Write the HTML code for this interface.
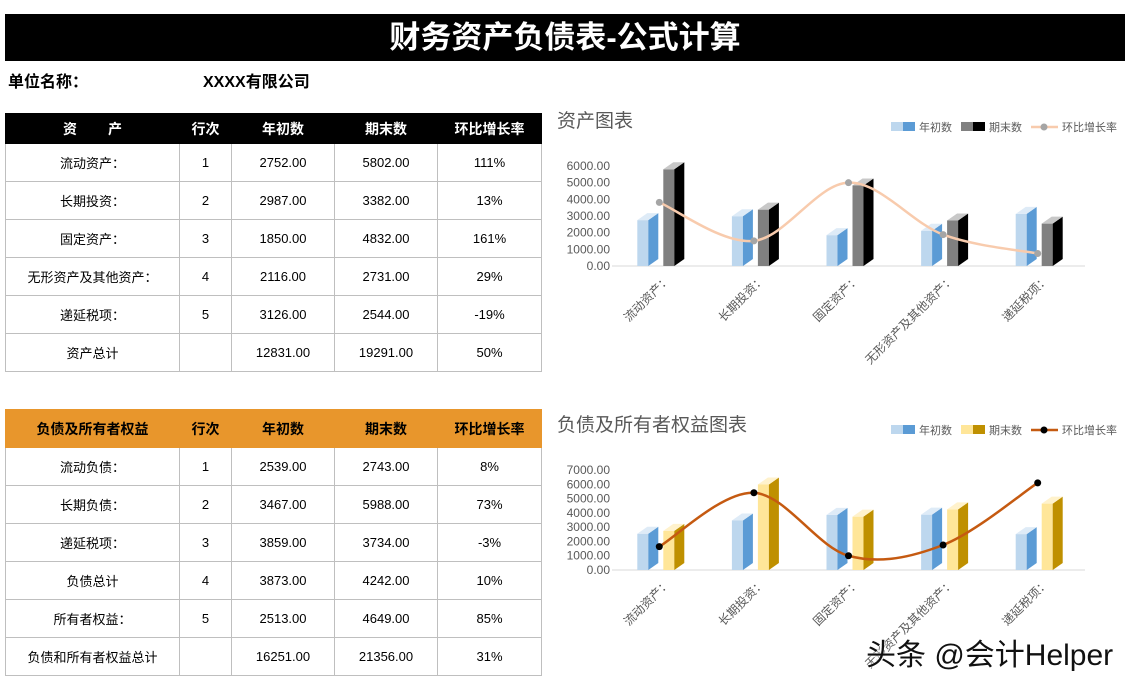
<!DOCTYPE html>
<html><head><meta charset="utf-8">
<style>
body{margin:0;width:1135px;height:685px;background:#fff;position:relative;overflow:hidden;font-family:"Liberation Sans","Noto Sans CJK SC",sans-serif;}
#title{position:absolute;left:5px;top:14px;width:1120px;height:47px;background:#000;color:#fff;font-size:31px;font-weight:bold;text-align:center;line-height:47px;}
.lbl{position:absolute;font-size:16px;font-weight:bold;color:#000;}
table{position:absolute;left:5px;border-collapse:collapse;font-size:13px;color:#000;}
td,th{border:1px solid #bfbfbf;text-align:center;padding:0;}
th{font-size:14px;font-weight:bold;}
#t1 th{background:#000;color:#fff;height:29px;border-color:#000;}
#t2 th{background:#E8962C;color:#000;height:37px;border-color:#E8962C;}
td{height:37px;}
svg{position:absolute;left:0;top:0;}
#wm{position:absolute;left:866px;top:630px;font-size:30px;color:#111;text-shadow:0 0 2px #fff,0 0 2px #fff;white-space:nowrap;}
</style></head><body>
<div id="title">财务资产负债表-公式计算</div>
<div class="lbl" style="left:8px;top:68px">单位名称：</div>
<div class="lbl" style="left:203px;top:68px">XXXX有限公司</div>

<table id="t1" style="top:113px">
<colgroup><col style="width:174px"><col style="width:52px"><col style="width:103px"><col style="width:103px"><col style="width:104px"></colgroup>
<tr><th>资&nbsp;&nbsp;&nbsp;&nbsp;&nbsp;&nbsp;&nbsp;&nbsp;产</th><th>行次</th><th>年初数</th><th>期末数</th><th>环比增长率</th></tr>
<tr><td>流动资产：</td><td>1</td><td>2752.00</td><td>5802.00</td><td>111%</td></tr>
<tr><td>长期投资：</td><td>2</td><td>2987.00</td><td>3382.00</td><td>13%</td></tr>
<tr><td>固定资产：</td><td>3</td><td>1850.00</td><td>4832.00</td><td>161%</td></tr>
<tr><td>无形资产及其他资产：</td><td>4</td><td>2116.00</td><td>2731.00</td><td>29%</td></tr>
<tr><td>递延税项：</td><td>5</td><td>3126.00</td><td>2544.00</td><td>-19%</td></tr>
<tr><td>资产总计</td><td></td><td>12831.00</td><td>19291.00</td><td>50%</td></tr>
</table>

<table id="t2" style="top:409px">
<colgroup><col style="width:174px"><col style="width:52px"><col style="width:103px"><col style="width:103px"><col style="width:104px"></colgroup>
<tr><th>负债及所有者权益</th><th>行次</th><th>年初数</th><th>期末数</th><th>环比增长率</th></tr>
<tr><td>流动负债：</td><td>1</td><td>2539.00</td><td>2743.00</td><td>8%</td></tr>
<tr><td>长期负债：</td><td>2</td><td>3467.00</td><td>5988.00</td><td>73%</td></tr>
<tr><td>递延税项：</td><td>3</td><td>3859.00</td><td>3734.00</td><td>-3%</td></tr>
<tr><td>负债总计</td><td>4</td><td>3873.00</td><td>4242.00</td><td>10%</td></tr>
<tr><td>所有者权益：</td><td>5</td><td>2513.00</td><td>4649.00</td><td>85%</td></tr>
<tr><td>负债和所有者权益总计</td><td></td><td>16251.00</td><td>21356.00</td><td>31%</td></tr>
</table>

<svg id="chart" width="1135" height="685"></svg>
<div id="wm">头条 @会计Helper</div>

<script>
const categories = ["流动资产：","长期投资：","固定资产：","无形资产及其他资产：","递延税项："];
const assetBegin = [2752,2987,1850,2116,3126];
const assetEnd = [5802,3382,4832,2731,2544];
const assetGrowth = [111,13,161,29,-19];
const liabBegin = [2539,3467,3859,3873,2513];
const liabEnd = [2743,5988,3734,4242,4649];
const liabGrowth = [8,73,-3,10,85];
const assetTicks = ["0.00","1000.00","2000.00","3000.00","4000.00","5000.00","6000.00"];
const liabTicks = ["0.00","1000.00","2000.00","3000.00","4000.00","5000.00","6000.00","7000.00"];

const NS="http://www.w3.org/2000/svg";
const svg=document.getElementById('chart');
function el(tag,attrs,parent){const e=document.createElementNS(NS,tag);for(const k in attrs)e.setAttribute(k,attrs[k]);(parent||svg).appendChild(e);return e;}

function drawChart(cfg){
  const g=el('g',{});
  
  
  const x0=612,x1=1085,y0=cfg.y0,ppu=cfg.ppu;
  const yS=v=>y0-v*ppu;
  const yS2=p=>y0-(p-cfg.pmin)/(cfg.pmax-cfg.pmin)*cfg.ymax*ppu;
  const band=(x1-x0)/categories.length;
  const xC=i=>x0+band*(i+0.5);
  const t=el('text',{x:557,y:cfg.titleY,'font-size':19,fill:'#595959'},g);t.textContent=cfg.title;
  
  
  cfg.ticks.forEach((lab,i)=>{
    const tt=el('text',{x:cfg.tickX,y:yS(i*1000)+4,'font-size':12,fill:'#595959','text-anchor':'end'},g);tt.textContent=lab;
    
    
  });
  el('line',{x1:x0,x2:x1,y1:y0,y2:y0,stroke:'#d9d9d9','stroke-width':1},g);
  function bar(x,v,cf,cs,ct,nm){
    const h=v*ppu,w1=11,w2=10,d=7;
    const b=el('g',{},g);
    
    
    el('rect',{x:x,y:y0-h,width:w1,height:h,fill:cf},b);
    el('polygon',{points:`${x+w1},${y0-h} ${x+w1+w2},${y0-h-d} ${x+w1+w2},${y0-d} ${x+w1},${y0}`,fill:cs},b);
    el('polygon',{points:`${x},${y0-h} ${x+w2},${y0-h-d} ${x+w1+w2},${y0-h-d} ${x+w1},${y0-h}`,fill:ct},b);
  }
  categories.forEach((c,i)=>{
    const cx=xC(i)+2;
    bar(cx-24,cfg.begin[i],'#BDD7EE','#5B9BD5','#DEEBF7','bar-begin');
    bar(cx+2,cfg.end[i],cfg.ef,cfg.es,cfg.et,'bar-end');
    const lt=el('text',{'font-size':12,fill:'#595959','text-anchor':'end',transform:`translate(${cx+10},${y0+14}) rotate(-45)`},g);
    lt.textContent=c;
    
    
  });
  const pts=cfg.growth.map((p,i)=>[xC(i),yS2(p)]);
  let d=`M${pts[0][0]},${pts[0][1]}`;
  for(let i=0;i<pts.length-1;i++){
    const p0=pts[Math.max(0,i-1)],p1=pts[i],p2=pts[i+1],p3=pts[Math.min(pts.length-1,i+2)];
    const c1=[p1[0]+(p2[0]-p0[0])/6,p1[1]+(p2[1]-p0[1])/6];
    const c2=[p2[0]-(p3[0]-p1[0])/6,p2[1]-(p3[1]-p1[1])/6];
    d+=` C${c1[0]},${c1[1]} ${c2[0]},${c2[1]} ${p2[0]},${p2[1]}`;
  }
  const ln=el('path',{d:d,fill:'none',stroke:cfg.lc,'stroke-width':2.5},g);
  
  
  pts.forEach(p=>{
    const m=el('circle',{cx:p[0],cy:p[1],r:3.5,fill:cfg.mc},g);
    
    
  });
  const ly=cfg.legY;
  const lg=el('g',{},g);
  
  
  el('rect',{x:891,y:ly-5,width:12,height:9,fill:'#BDD7EE'},lg);el('rect',{x:903,y:ly-5,width:12,height:9,fill:'#5B9BD5'},lg);
  let tx=el('text',{x:919,y:ly+4,'font-size':11,fill:'#595959'},lg);tx.textContent='年初数';
  el('rect',{x:961,y:ly-5,width:12,height:9,fill:cfg.ef},lg);el('rect',{x:973,y:ly-5,width:12,height:9,fill:cfg.es},lg);
  tx=el('text',{x:989,y:ly+4,'font-size':11,fill:'#595959'},lg);tx.textContent='期末数';
  el('line',{x1:1031,x2:1058,y1:ly,y2:ly,stroke:cfg.lc,'stroke-width':2.5},lg);
  el('circle',{cx:1044,cy:ly,r:3.5,fill:cfg.mc},lg);
  tx=el('text',{x:1062,y:ly+4,'font-size':11,fill:'#595959'},lg);tx.textContent='环比增长率';
}
drawChart({name:'asset-chart',title:'资产图表',titleY:127,legY:127,y0:266,ppu:100/6000,ymax:6000,pmin:-50.8,pmax:203.4,tickX:610,
  ticks:assetTicks,begin:assetBegin,end:assetEnd,growth:assetGrowth,ef:'#808080',es:'#000000',et:'#c8c8c8',lc:'#F8CBAD',mc:'#A5A5A5'});
drawChart({name:'liability-chart',title:'负债及所有者权益图表',titleY:431,legY:430,y0:570,ppu:100/7000,ymax:7000,pmin:-20.2,pmax:100.5,tickX:610,
  ticks:liabTicks,begin:liabBegin,end:liabEnd,growth:liabGrowth,ef:'#FFE699',es:'#BF9000',et:'#FFF2CC',lc:'#C55A11',mc:'#000000'});
</script>
</body></html>
